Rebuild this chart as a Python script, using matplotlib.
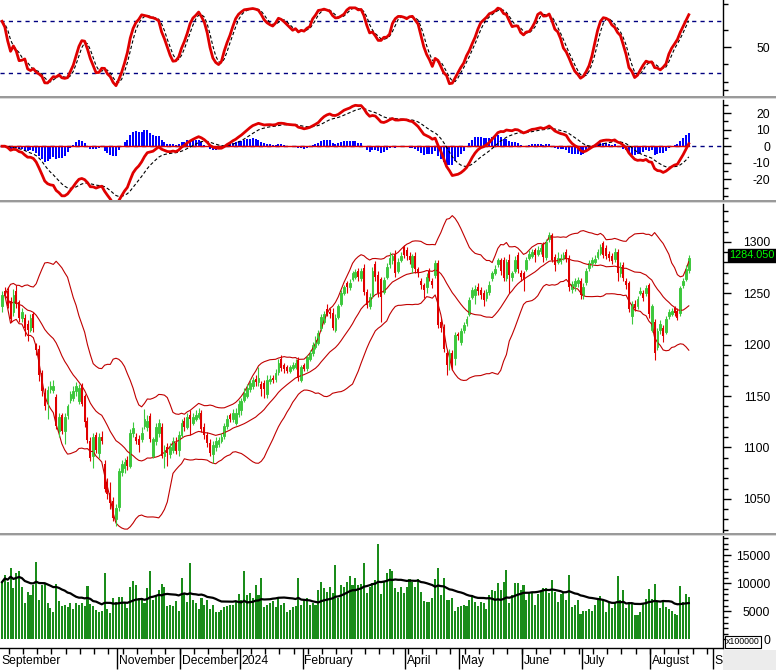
import numpy as np
import pandas as pd
import matplotlib
matplotlib.use("Agg")
import matplotlib.pyplot as plt
from matplotlib.patches import Rectangle
import matplotlib.transforms as mtransforms

plt.rcParams['font.family'] = ['Liberation Sans', 'DejaVu Sans']

# daily bars, Sep 2023 - Aug 2024
opens = [1238, 1252, 1252, 1242, 1232, 1252, 1241, 1226, 1226, 1220, 1214, 1230, 1200, 1196, 1172, 1153, 1145, 1157, 1156, 1149,
         1116, 1132, 1116, 1132, 1146, 1148, 1155, 1145, 1160, 1150, 1126, 1106, 1092, 1112, 1095, 1110, 1084, 1066, 1056, 1048,
         1030, 1042, 1076, 1080, 1088, 1082, 1114, 1110, 1108, 1108, 1121, 1120, 1131, 1092, 1106, 1114, 1120, 1092, 1100, 1094,
         1098, 1104, 1098, 1112, 1126, 1120, 1132, 1124, 1128, 1130, 1134, 1120, 1112, 1104, 1094, 1100, 1103, 1106, 1111, 1121,
         1132, 1128, 1124, 1133, 1136, 1146, 1150, 1157, 1160, 1167, 1164, 1162, 1163, 1152, 1165, 1168, 1167, 1173, 1186, 1180,
         1178, 1174, 1177, 1178, 1185, 1166, 1180, 1177, 1186, 1192, 1198, 1202, 1216, 1222, 1235, 1232, 1231, 1214, 1227, 1240,
         1250, 1260, 1256, 1264, 1266, 1272, 1265, 1275, 1251, 1238, 1248, 1278, 1268, 1264, 1251, 1266, 1278, 1282, 1288, 1272,
         1282, 1295, 1292, 1286, 1276, 1286, 1274, 1262, 1258, 1256, 1272, 1262, 1268, 1279, 1222, 1217, 1192, 1183, 1192, 1187,
         1210, 1203, 1214, 1221, 1230, 1246, 1248, 1256, 1253, 1250, 1245, 1251, 1265, 1270, 1278, 1282, 1282, 1265, 1282, 1266,
         1272, 1287, 1270, 1270, 1274, 1284, 1286, 1292, 1288, 1291, 1298, 1285, 1303, 1307, 1285, 1280, 1281, 1284, 1290, 1284,
         1254, 1257, 1260, 1262, 1248, 1261, 1275, 1279, 1280, 1285, 1289, 1299, 1294, 1288, 1286, 1283, 1290, 1270, 1277, 1262,
         1260, 1228, 1240, 1238, 1250, 1250, 1250, 1258, 1214, 1222, 1198, 1214, 1216, 1212, 1228, 1230, 1236, 1233, 1231, 1258,
         1264, 1273]
highs = [1252, 1256, 1256, 1246, 1254, 1258, 1243, 1236, 1230, 1224, 1230, 1232, 1202, 1200, 1175, 1158, 1160, 1165, 1166, 1152,
         1134, 1134, 1134, 1142, 1155, 1160, 1164, 1162, 1163, 1152, 1130, 1110, 1114, 1115, 1114, 1116, 1088, 1070, 1066, 1052,
         1045, 1080, 1088, 1090, 1092, 1118, 1125, 1114, 1112, 1120, 1137, 1132, 1134, 1110, 1124, 1128, 1124, 1102, 1104, 1104,
         1110, 1110, 1116, 1128, 1130, 1134, 1136, 1134, 1136, 1138, 1136, 1124, 1115, 1108, 1106, 1110, 1110, 1114, 1124, 1132,
         1134, 1137, 1138, 1146, 1148, 1158, 1162, 1167, 1169, 1170, 1178, 1165, 1166, 1170, 1170, 1170, 1176, 1186, 1190, 1182,
         1180, 1180, 1183, 1186, 1188, 1180, 1182, 1190, 1195, 1203, 1208, 1214, 1230, 1233, 1240, 1236, 1236, 1230, 1240, 1253,
         1258, 1262, 1264, 1272, 1274, 1275, 1275, 1278, 1254, 1250, 1276, 1281, 1272, 1266, 1266, 1279, 1290, 1288, 1292, 1284,
         1290, 1297, 1295, 1290, 1288, 1290, 1276, 1265, 1260, 1270, 1275, 1265, 1282, 1282, 1226, 1220, 1195, 1196, 1195, 1212,
         1212, 1216, 1222, 1228, 1246, 1256, 1258, 1260, 1256, 1253, 1254, 1262, 1272, 1277, 1284, 1284, 1285, 1283, 1288, 1272,
         1286, 1290, 1273, 1272, 1285, 1292, 1293, 1294, 1296, 1298, 1300, 1303, 1310, 1309, 1288, 1290, 1288, 1290, 1293, 1287,
         1262, 1265, 1266, 1265, 1260, 1275, 1282, 1285, 1287, 1293, 1298, 1301, 1297, 1291, 1289, 1294, 1293, 1280, 1280, 1265,
         1262, 1242, 1243, 1247, 1256, 1253, 1258, 1260, 1240, 1225, 1216, 1224, 1219, 1228, 1235, 1236, 1238, 1236, 1257, 1265,
         1277, 1287]
lows = [1232, 1245, 1236, 1222, 1228, 1236, 1222, 1222, 1208, 1204, 1212, 1212, 1190, 1165, 1150, 1136, 1128, 1153, 1153, 1118,
        1110, 1113, 1103, 1128, 1143, 1145, 1150, 1142, 1140, 1120, 1104, 1087, 1080, 1095, 1090, 1103, 1057, 1050, 1040, 1028,
        1024, 1038, 1072, 1075, 1078, 1080, 1110, 1103, 1096, 1105, 1118, 1116, 1105, 1090, 1102, 1110, 1090, 1080, 1082, 1090,
        1095, 1094, 1092, 1110, 1116, 1118, 1112, 1122, 1126, 1128, 1115, 1108, 1100, 1092, 1085, 1097, 1100, 1104, 1108, 1118,
        1125, 1125, 1122, 1130, 1132, 1144, 1148, 1154, 1157, 1160, 1160, 1150, 1148, 1148, 1162, 1163, 1164, 1170, 1174, 1172,
        1172, 1172, 1175, 1176, 1165, 1164, 1174, 1174, 1184, 1189, 1196, 1200, 1213, 1220, 1228, 1226, 1214, 1212, 1225, 1238,
        1248, 1250, 1253, 1262, 1264, 1262, 1262, 1248, 1236, 1235, 1245, 1262, 1246, 1222, 1249, 1264, 1275, 1278, 1266, 1270,
        1280, 1284, 1282, 1278, 1270, 1270, 1266, 1254, 1245, 1250, 1262, 1255, 1265, 1216, 1212, 1193, 1170, 1175, 1175, 1180,
        1205, 1200, 1211, 1218, 1228, 1244, 1240, 1248, 1244, 1238, 1242, 1248, 1262, 1268, 1276, 1268, 1262, 1262, 1250, 1262,
        1270, 1270, 1262, 1252, 1272, 1282, 1284, 1280, 1286, 1288, 1280, 1282, 1300, 1280, 1272, 1278, 1278, 1282, 1280, 1252,
        1250, 1252, 1256, 1244, 1244, 1258, 1272, 1276, 1278, 1283, 1287, 1284, 1283, 1281, 1278, 1280, 1262, 1266, 1262, 1254,
        1232, 1220, 1233, 1235, 1248, 1242, 1247, 1226, 1212, 1185, 1195, 1210, 1203, 1210, 1225, 1228, 1228, 1224, 1228, 1255,
        1262, 1270]
closes = [1248, 1248, 1238, 1225, 1248, 1240, 1226, 1232, 1216, 1214, 1226, 1216, 1195, 1170, 1155, 1140, 1156, 1160, 1160, 1121,
          1130, 1116, 1130, 1140, 1152, 1155, 1160, 1158, 1142, 1125, 1107, 1090, 1110, 1098, 1110, 1106, 1060, 1055, 1046, 1031,
          1041, 1077, 1084, 1086, 1082, 1114, 1119, 1106, 1102, 1114, 1128, 1126, 1108, 1108, 1120, 1124, 1092, 1098, 1095, 1100,
          1106, 1097, 1112, 1124, 1120, 1130, 1128, 1130, 1132, 1134, 1118, 1112, 1104, 1095, 1102, 1106, 1107, 1110, 1121, 1128,
          1128, 1134, 1134, 1142, 1145, 1153, 1158, 1163, 1166, 1164, 1168, 1157, 1157, 1166, 1167, 1166, 1172, 1182, 1177, 1176,
          1174, 1178, 1180, 1182, 1168, 1178, 1176, 1188, 1192, 1200, 1205, 1211, 1227, 1230, 1230, 1230, 1216, 1226, 1238, 1250,
          1256, 1256, 1260, 1270, 1271, 1266, 1272, 1251, 1239, 1246, 1272, 1266, 1250, 1246, 1263, 1276, 1284, 1286, 1270, 1280,
          1286, 1287, 1286, 1282, 1286, 1274, 1270, 1258, 1253, 1266, 1265, 1258, 1279, 1219, 1216, 1196, 1180, 1192, 1178, 1209,
          1208, 1213, 1219, 1225, 1243, 1253, 1254, 1252, 1248, 1243, 1251, 1258, 1270, 1274, 1282, 1272, 1265, 1280, 1268, 1270,
          1282, 1274, 1266, 1264, 1282, 1288, 1290, 1287, 1292, 1294, 1285, 1300, 1307, 1282, 1277, 1284, 1284, 1287, 1283, 1256,
          1259, 1262, 1263, 1248, 1256, 1272, 1279, 1282, 1283, 1290, 1295, 1287, 1286, 1284, 1281, 1290, 1270, 1276, 1265, 1258,
          1235, 1240, 1236, 1244, 1252, 1245, 1255, 1230, 1238, 1192, 1213, 1220, 1208, 1225, 1232, 1233, 1231, 1226, 1255, 1262,
          1274, 1284.05]
# volume, in units of 100000
volumes = [10200, 11500, 10200, 12700, 9200, 11800, 12200, 9400, 6400, 8500, 7900, 9700, 13800, 7000, 9700, 9800, 6400, 5600, 4800, 9800,
           6800, 6000, 6200, 5800, 6400, 5400, 6400, 6200, 6400, 5900, 9500, 6300, 5900, 5200, 4900, 5000, 11800, 5400, 4700, 7300,
           6700, 7600, 7600, 6400, 5600, 9400, 10400, 9700, 7300, 7400, 6400, 9100, 12200, 7000, 7900, 8800, 9800, 9400, 5900, 6100,
           5900, 6800, 5000, 10900, 8200, 6700, 13600, 7000, 6400, 5500, 7400, 6100, 7000, 5500, 6100, 4900, 4800, 5200, 5800, 5900,
           6100, 6200, 6700, 8100, 7000, 12100, 7900, 8200, 7300, 9700, 7900, 10900, 5800, 6100, 6400, 6900, 5800, 7400, 6100, 6400,
           4900, 5200, 5800, 6000, 10900, 6200, 7000, 7300, 6100, 6400, 6100, 8800, 10300, 9100, 8500, 9400, 8200, 13200, 7300, 9700,
           9400, 10300, 11200, 9700, 10900, 9700,
           9800, 13600, 8200, 9400, 10000, 10600, 16900, 8000, 10300, 11800, 12500, 12200, 9100, 8500, 9400, 8200, 9400, 10800,
           10300, 9400, 10800, 8400, 6800, 6700, 6600, 7300, 10800, 12700, 7900, 11000, 7000, 7100, 7400, 5000, 5800, 6000, 6100,
           6000, 7000, 7900, 6700, 6000, 6700, 6400, 5500, 7900, 8800, 8600, 10000, 8800, 10300, 12400, 6400, 7900, 10000, 10000,
           8800, 9700, 7000, 8200, 8400, 6100, 8000, 8600, 9100, 9200, 8200, 10600, 8400, 6700, 8000, 8200, 7000, 11500, 5800, 6100,
           7000, 4600, 5000, 5000, 5400, 5000, 6100, 7000, 7800, 7000, 4900, 6400, 5600, 6700, 11200, 7000, 8800, 5600, 6700, 6400,
           4300, 4300, 4800, 6400, 7200, 9000, 7200, 9800, 6700, 5600, 7000, 5800, 5500, 5000, 4600, 4400, 9500, 6700, 8000, 7600]

# first bar of each labelled month, and its label
month_first_bar = [41, 63, 84, 106, 142, 161, 183, 204, 228, 250]
month_labels = ["November", "December", "2024", "February", "April", "May", "June", "July", "August", "S"]

n = len(closes)
idx = np.arange(n)
o = np.array(opens, float)
h = np.array(highs, float)
l = np.array(lows, float)
c = np.array(closes, float)
cs = pd.Series(c)

# indicators
mid = cs.rolling(20, min_periods=2).mean()
sd = cs.rolling(20, min_periods=2).std(ddof=0)
upper = mid + 2 * sd
lower = mid - 2 * sd

hh = pd.Series(h).rolling(14, min_periods=1).max()
ll = pd.Series(l).rolling(14, min_periods=1).min()
fast_k = 100 * (cs - ll) / (hh - ll)
slow_k = fast_k.rolling(5, min_periods=1).mean()
slow_d = slow_k.rolling(3, min_periods=1).mean()

ema12 = cs.ewm(span=12, adjust=False).mean()
ema26 = cs.ewm(span=26, adjust=False).mean()
macd = ema12 - ema26
signal = macd.ewm(span=9, adjust=False).mean()
hist = macd - signal

vol_ma = pd.Series(volumes, dtype=float).rolling(20, min_periods=1).mean()

# ---- layout (pixels) ----
W, H = 776, 670
fig = plt.figure(figsize=(W / 100, H / 100), dpi=100)
AX_R = 723
XMIN, XMAX = -0.7, 253.0


def panel(top, bottom):
    ax = fig.add_axes([0, 1 - bottom / H, AX_R / W, (bottom - top) / H])
    ax.set_xlim(XMIN, XMAX)
    for s in ['left', 'top', 'bottom']:
        ax.spines[s].set_visible(False)
    ax.spines['right'].set_linewidth(1.0)
    ax.yaxis.tick_right()
    ax.tick_params(axis='y', which='major', direction='out', length=6, width=1,
                   labelsize=8.7, pad=27.8)
    ax.tick_params(axis='y', which='minor', direction='out', length=3.5, width=1)
    ax.tick_params(axis='x', which='both', bottom=False, labelbottom=False)
    ax.set_facecolor('white')
    return ax


def right_align(ax):
    for t in ax.yaxis.get_major_ticks():
        t.label2.set_horizontalalignment('right')


ax_st = panel(0, 96)
ax_md = panel(100, 200)
ax_pr = panel(204, 533)
ax_vo = panel(536, 648)

red = '#e00000'
green = '#3cc83c'

# stochastic
ax_st.set_ylim(-6.7, 104.7)
ax_st.axhline(80, color='#000080', lw=1, ls=(0, (3, 3)))
ax_st.axhline(20, color='#000080', lw=1, ls=(0, (3, 3)))
ax_st.plot(idx, slow_d, color='black', lw=0.8, ls=(0, (3, 2)))
ax_st.plot(idx, slow_k, color=red, lw=2)
ax_st.set_yticks([50])
ax_st.set_yticks([0, 10, 30, 70, 100], minor=True)
right_align(ax_st)

# MACD
ax_md.set_ylim(-32.5, 27.9)
ax_md.axhline(0, color='#000080', lw=1, ls=(0, (3, 3)))
ax_md.bar(idx, hist, width=0.7, color='#0000ff', linewidth=0)
ax_md.plot([idx[0], idx[-1]], [0, 0], color=red, lw=1)
ax_md.plot(idx, signal, color='black', lw=0.8, ls=(0, (3, 2)))
ax_md.plot(idx, macd, color=red, lw=2)
ax_md.set_yticks([-20, -10, 0, 10, 20])
ax_md.set_yticklabels(['-20', '-10', '0', '10', '20'])
ax_md.set_yticks(np.arange(-30, 30, 5), minor=True)
right_align(ax_md)

# price
ax_pr.set_ylim(1016.8, 1336.8)
ax_pr.plot(idx, upper, color='#c00000', lw=0.8)
ax_pr.plot(idx, mid, color='#c00000', lw=0.8)
ax_pr.plot(idx, lower, color='#c00000', lw=0.8)
up = c >= o
dn = ~up
ax_pr.vlines(idx[up], l[up], h[up], color=green, lw=0.8)
ax_pr.vlines(idx[dn], l[dn], h[dn], color=red, lw=0.8)
ax_pr.bar(idx[up], c[up] - o[up], bottom=o[up], width=0.62,
          facecolor='white', edgecolor=green, linewidth=0.7)
ax_pr.bar(idx[dn], c[dn] - o[dn], bottom=o[dn], width=0.7,
          color=red, linewidth=0)
ax_pr.set_yticks([1050, 1100, 1150, 1200, 1250, 1300])
ax_pr.set_yticks(np.arange(1020, 1340, 10), minor=True)
right_align(ax_pr)
fig.text(729.5 / W, 1 - 255.5 / H, '%.3f' % closes[-1],
         color='#00ff00', fontsize=7.8, va='center', ha='left',
         bbox=dict(boxstyle='square,pad=0.15', fc='black', ec='black'))

# volume
ax_vo.set_ylim(-1526, 18400)
ax_vo.bar(idx, volumes, width=0.72, color='#1a8c1a', linewidth=0)
ax_vo.plot(idx, vol_ma, color='black', lw=1.6)
ax_vo.set_yticks([0, 5000, 10000, 15000])
ax_vo.set_yticks(np.arange(0, 18001, 1000), minor=True)
right_align(ax_vo)

# date axis on the volume panel
ax_vo.spines['bottom'].set_visible(True)
ax_vo.spines['bottom'].set_linewidth(1.0)
tick_x = [b - 0.5 for b in month_first_bar]
ax_vo.set_xticks(tick_x)
ax_vo.set_xticks(np.arange(2.3, 252, 5), minor=True)
ax_vo.tick_params(axis='x', which='major', bottom=True, direction='out', length=15, width=1)
ax_vo.tick_params(axis='x', which='minor', bottom=True, direction='out', length=4, width=1)
ax_vo.set_xlim(XMIN, XMAX)
trans = mtransforms.blended_transform_factory(ax_vo.transData, fig.transFigure)
ax_vo.text(XMIN + 0.6, 1 - 661 / H, 'September', transform=trans, fontsize=8.7,
           va='center', ha='left')
for tx, lab in zip(tick_x, month_labels):
    ax_vo.text(tx + 0.5, 1 - 661 / H, lab, transform=trans, fontsize=8.7,
               va='center', ha='left')

# grey lower-right corner and panel separators
fig.patches.append(Rectangle((AX_R / W, 0), 1 - AX_R / W, 1 - 650 / H,
                             transform=fig.transFigure, fc='#ececec', ec='none', zorder=-1))
for ytop in (96, 200, 533):
    fig.patches.append(Rectangle((0, 1 - (ytop + 2) / H), 1, 2 / H,
                                 transform=fig.transFigure, fc='#9a9a9a', ec='none'))
    fig.patches.append(Rectangle((0, 1 - (ytop + 3) / H), 1, 1 / H,
                                 transform=fig.transFigure, fc='#d8d8d8', ec='none'))

# x100000 multiplier box
fig.text(726 / W, 1 - 642 / H, 'x100000', fontsize=6.3, va='center', ha='left',
         bbox=dict(boxstyle='square,pad=0.15', fc='white', ec='black', lw=0.8))

fig.savefig('out.png', dpi=100)
